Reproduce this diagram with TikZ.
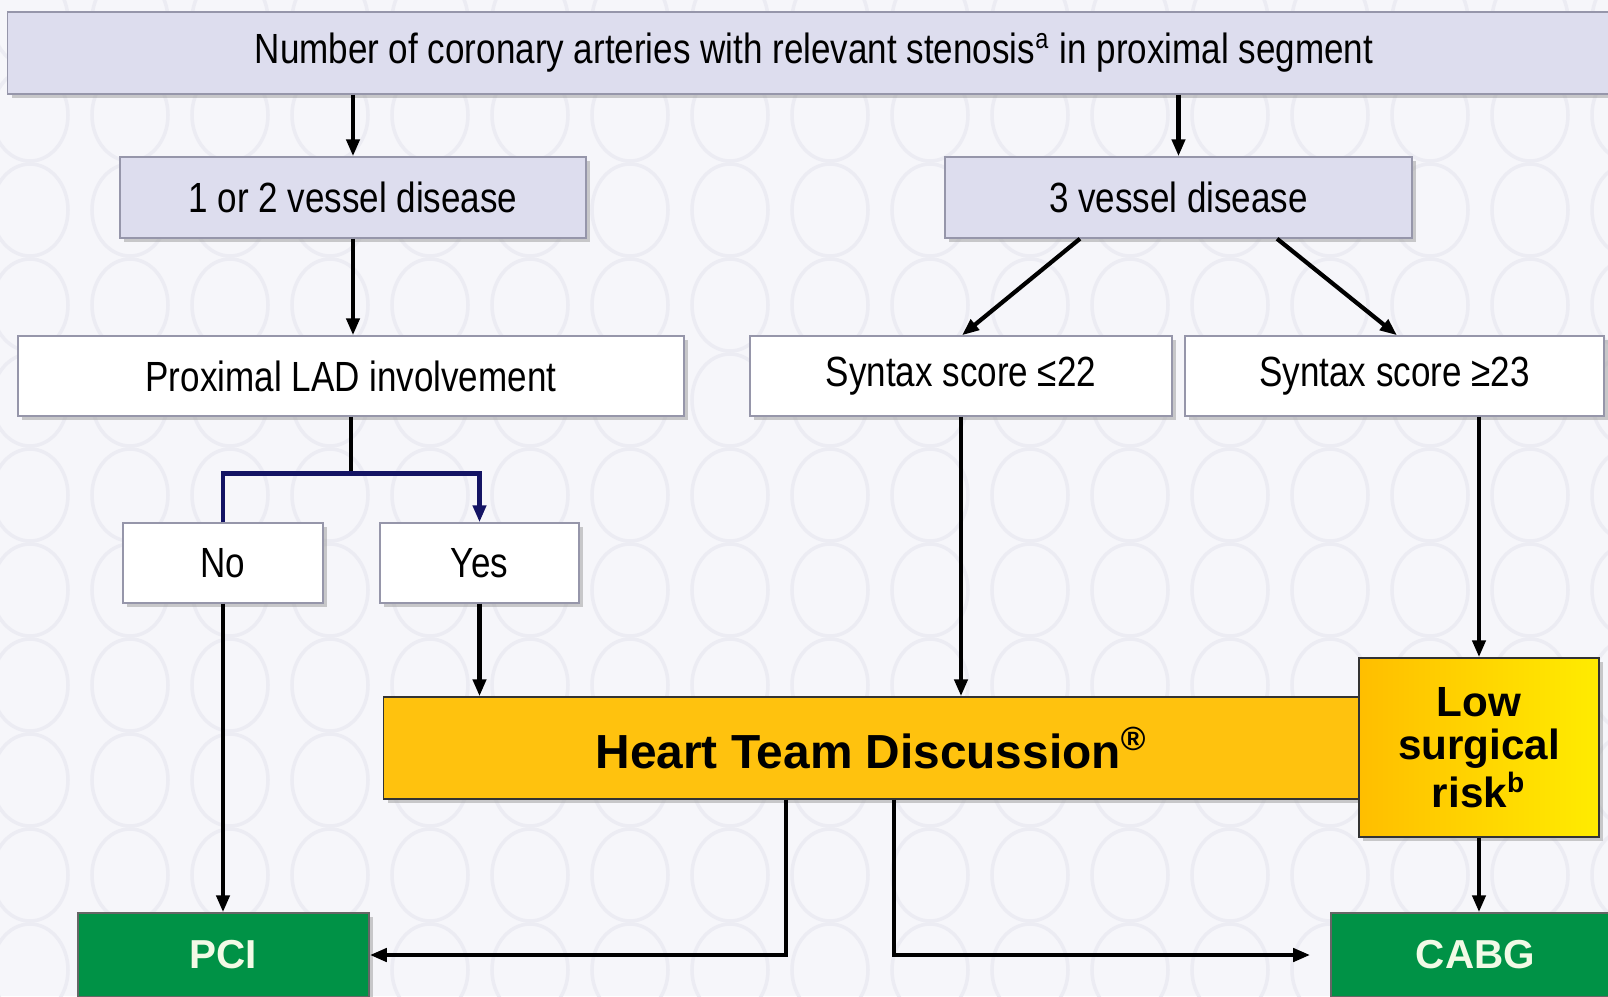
\documentclass[tikz,border=0pt]{standalone}
\usepackage{fontspec}
\setmainfont{Liberation Sans}
\newfontfamily\narrowfont[FakeStretch=0.83]{Liberation Sans}
\usetikzlibrary{arrows.meta,shadows}

\definecolor{bgcol}{RGB}{246,246,250}
\definecolor{bgring}{RGB}{236,236,243}
\definecolor{lavender}{RGB}{221,221,238}
\definecolor{boxline}{RGB}{150,150,170}
\definecolor{navyline}{RGB}{20,20,100}
\definecolor{teamcol}{RGB}{255,194,14}
\definecolor{riskleft}{RGB}{255,190,0}
\definecolor{riskright}{RGB}{255,236,0}
\definecolor{treatcol}{RGB}{0,146,70}
\definecolor{treattext}{RGB}{242,250,230}

\begin{document}
\begin{tikzpicture}[x=0.01cm, y=-0.01cm,
  qbox/.style  = {draw=boxline, fill=lavender, inner sep=0pt,
                  minimum height=0.81cm, align=center,
                  font=\narrowfont\fontsize{12}{14}\selectfont,
                  drop shadow={shadow xshift=0.04cm, shadow yshift=-0.04cm,
                               fill=black!40, opacity=.5}},
  abox/.style  = {qbox, fill=white, minimum height=0.80cm},
  tbox/.style  = {draw=black!80, fill=teamcol, inner sep=0pt,
                  align=center, font=\bfseries\fontsize{13.6}{15}\selectfont,
                  drop shadow={shadow xshift=0.04cm, shadow yshift=-0.04cm,
                               fill=black!40, opacity=.5}},
  rbox/.style  = {tbox, left color=riskleft, right color=riskright,
                  font=\bfseries\fontsize{12}{12.3}\selectfont},
  gbox/.style  = {draw=black!60, fill=treatcol, inner sep=0pt,
                  minimum height=0.84cm, text=treattext,
                  font=\bfseries\fontsize{11.5}{13}\selectfont,
                  drop shadow={shadow xshift=0.04cm, shadow yshift=-0.04cm,
                               fill=black!40, opacity=.5}},
  arr/.style   = {-{Triangle[length=0.17cm,width=0.13cm]}, line width=1.2pt, black},
  plain/.style = {line width=1.2pt, black},
  narr/.style  = {-{Triangle[length=0.17cm,width=0.13cm]}, line width=1.3pt, navyline},
]

\useasboundingbox (0,0) rectangle (1608,996);
\fill[bgcol] (0,0) rectangle (1608,996);

% faint ring pattern of the slide background
\foreach \i in {0,...,16}
  \foreach \j in {0,...,10}
    \draw[bgring, line width=1pt] (\i*100+30, \j*95+20) ellipse (38 and 46);

\node[qbox, minimum width=16.12cm, minimum height=0.82cm] (num) at (814,53)
  {Number of coronary arteries with relevant stenosis\textsuperscript{a} in proximal segment};

\node[qbox, minimum width=4.66cm] (v12) at (353,197.5) {1 or 2 vessel disease};
\node[qbox, minimum width=4.67cm] (v3)  at (1178.5,197.5) {3 vessel disease};

\node[abox, minimum width=6.66cm] (lad) at (351,376) {Proximal LAD involvement};
\node[abox, minimum width=4.22cm] (slo) at (961,376) {Syntax score ≤22};
\node[abox, minimum width=4.19cm] (shi) at (1394.5,376) {Syntax score ≥23};

\node[abox, minimum width=2.00cm] (no)  at (223,563) {No};
\node[abox, minimum width=1.99cm] (yes) at (479.5,563) {Yes};

\node[tbox, minimum width=9.75cm, minimum height=1.02cm] (htd) at (871.5,748)
  {Heart Team Discussion\textsuperscript{\textregistered}};
\node[rbox, minimum width=2.40cm, minimum height=1.79cm] (low) at (1479,747.5)
  {Low\\surgical\\risk\textsuperscript{b}};

\node[gbox, minimum width=2.91cm] (pci)  at (223.5,955) {PCI};
\node[gbox, minimum width=2.89cm] (cabg) at (1475.5,955) {CABG};

% from the question down to vessel count
\draw[arr] (num.south -| v12) -- (v12.north);
\draw[arr] (num.south -| v3) -- (v3.north);
\draw[arr] (v12.south) -- (v12.south |- lad.north);
\draw[arr] ([xshift=-0.985cm]v3.south) -- ([xshift=0.01cm]slo.north);
\draw[arr] ([xshift=0.985cm]v3.south) -- ([xshift=0.025cm]shi.north);

% LAD fork: No / Yes
\draw[plain] (lad.south) -- ++(0,57) coordinate (fork);
\draw[narr] (no.north) |- (fork) -| (yes.north);

% into the Heart Team
\draw[arr] (yes.south) -- (yes.south |- htd.north);
\draw[arr] (slo.south) -- (slo.south |- htd.north);
\draw[arr] (low.north |- shi.south) -- (low.north);

% to treatment
\draw[arr] (no.south) -- (no.south |- pci.north);
\draw[arr] (low.south) -- (low.south |- cabg.north);
\draw[arr] ([xshift=-0.855cm]htd.south) |- (pci.east);
\draw[arr, shorten >=0.2cm] ([xshift=0.225cm]htd.south) |- (cabg.west);

\end{tikzpicture}
\end{document}
